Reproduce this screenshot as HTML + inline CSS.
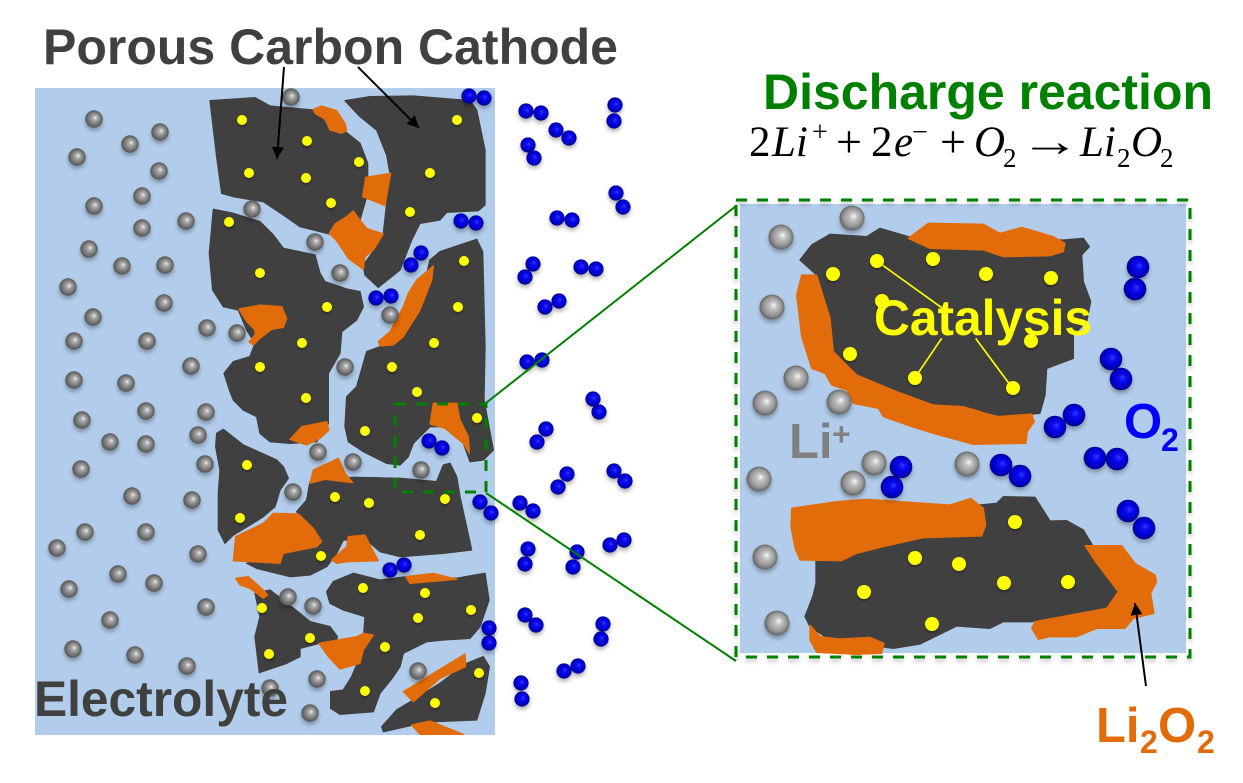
<!DOCTYPE html>
<html><head><meta charset="utf-8"><style>
html,body{margin:0;padding:0;background:#fff}
svg{display:block;filter:blur(.35px)}
text{font-family:"Liberation Sans",sans-serif;font-weight:700}
.m text{font-family:"Liberation Serif",serif;font-weight:400;fill:#000}
.d{fill:#404040;stroke:#404040;stroke-width:4;stroke-linejoin:round}.o{fill:#e36c0a;stroke:#e36c0a;stroke-width:4;stroke-linejoin:round}
.g{fill:url(#gb)}.b{fill:url(#bb)}.g2{fill:url(#gb2)}
.y{fill:#ff0}
</style></head><body>
<svg xmlns="http://www.w3.org/2000/svg" width="1243" height="783" viewBox="0 0 1243 783">
<defs>
<radialGradient id="gb" cx=".5" cy=".5" r=".55" fx=".58" fy=".42">
<stop offset="0" stop-color="#f2f2f2"/><stop offset=".22" stop-color="#b0b0b0"/><stop offset=".6" stop-color="#7c7c7c"/><stop offset="1" stop-color="#4a4a4a"/></radialGradient>
<radialGradient id="gb2" cx=".5" cy=".5" r=".55" fx=".58" fy=".42">
<stop offset="0" stop-color="#fbfbfb"/><stop offset=".25" stop-color="#c4c4c4"/><stop offset=".65" stop-color="#989898"/><stop offset="1" stop-color="#555"/></radialGradient>
<radialGradient id="bb" cx=".5" cy=".5" r=".55" fx=".58" fy=".42">
<stop offset="0" stop-color="#3838ff"/><stop offset=".3" stop-color="#0a0af0"/><stop offset=".7" stop-color="#0000c8"/><stop offset="1" stop-color="#00006e"/></radialGradient>
<marker id="ah" markerUnits="userSpaceOnUse" markerWidth="14" markerHeight="14" refX="12" refY="6" orient="auto"><path d="M0 0L12 6L0 12Z" fill="#000"/></marker>
</defs>
<rect width="1243" height="783" fill="#fff"/>
<rect x="35" y="88" width="460" height="647" fill="#b2cdeb"/>

<g transform="translate(200,80) scale(.33333)">
<path class="d" d="M30 62L165 53L210 78L340 90L400 145L440 158L480 190L503 250L503 340L480 420L440 445L388 462L300 440L250 405L190 365L100 350L65 340L50 230Z"/>
<path class="d" d="M435 62L510 50L640 48L810 62L830 90L855 210L855 375L835 392L740 397L720 420L660 430L635 480L600 570L535 622L495 585L490 555L530 500L550 460L570 280L560 225L530 150L480 110Z"/>
<path class="d" d="M40 388L100 400L180 425L220 465L250 505L345 525L360 580L375 605L440 627L480 635L490 680L470 720L425 755L420 820L385 880L385 1030L350 1085L270 1090L210 1085L180 1060L170 1010L130 990L100 960L90 935L72 880L100 845L150 830L165 790L140 750L115 690L70 680L38 630L28 520Z"/>
<path class="d" d="M830 478L848 515L855 800L852 960L880 1110L850 1140L810 1145L790 1090L730 1040L690 1040L640 1090L625 1130L600 1155L560 1150L490 1115L445 1085L435 1040L440 950L470 920L500 815L540 800L600 780L650 700L690 540L720 515Z"/>
<path class="o" d="M340 88L365 78L410 92L435 130L440 152L425 160L390 150L375 118L345 100Z"/>
<path class="o" d="M497 292L572 280L555 377L488 350Z"/>
<path class="o" d="M388 460L405 432L440 410L460 393L480 420L500 445L550 462L520 510L495 530L490 568L445 535L412 485Z"/>
<path class="o" d="M117 687L180 675L245 680L260 715L250 742L215 748L180 775L160 795L147 785L165 765L165 750L140 725Z"/>
<path class="o" d="M700 558L695 600L660 690L610 770L580 795L540 798L535 785L570 755L610 680L625 640L650 600Z"/>
</g>

<g transform="translate(200,400) scale(.33333)">
<path class="d" d="M50 100L70 88L130 135L230 180L250 200L265 235L240 270L225 320L190 350L150 375L100 405L75 430L55 390L55 280L60 210L47 140Z"/>
<path class="d" d="M290 335L320 300L330 245L460 232L600 235L710 245L730 195L750 190L770 230L780 290L815 450L730 460L600 470L540 455L500 420L430 420L410 460L380 500L330 525L270 530L170 505L140 490L240 470L250 450L350 440L360 410L320 370Z"/>
<path class="d" d="M165 580L210 570L300 640L330 665L390 680L412 710L410 720L357 730L300 745L300 770L260 790L178 818L165 710L180 650Z"/>
<path class="d" d="M380 575L400 545L460 520L540 540L620 530L770 535L855 520L867 600L840 680L810 715L730 720L680 725L610 760L600 800L580 830L540 880L520 935L420 943L392 925L392 875L430 870L455 830L480 770L490 720L495 650L430 630L390 610Z"/>
<path class="d" d="M545 980L590 930L640 900L720 850L800 790L850 770L868 800L855 880L830 960L700 965L640 975L550 995Z"/>
<path class="o" d="M700 10L770 10L780 60L805 110L808 160L790 130L735 85L690 72Z"/>
<path class="o" d="M270 118L305 80L380 65L387 90L360 115L320 135Z"/>
<path class="o" d="M330 250L340 210L415 175L435 220L458 248L375 238Z"/>
<path class="o" d="M100 482L107 410L190 370L220 340L295 342L340 385L365 425L350 440L250 460L240 490Z"/>
<path class="o" d="M395 480L440 440L445 410L495 405L510 435L535 482L440 485L410 490Z"/>
<path class="o" d="M107 535L145 530L190 570L203 585L190 595L150 565L120 555Z"/>
<path class="o" d="M617 530L700 520L770 538L630 550Z"/>
<path class="o" d="M357 730L470 710L490 700L520 705L490 750L480 790L420 807L385 770Z"/>
<path class="o" d="M610 875L700 820L795 762L797 800L720 835L640 905Z"/>
<path class="o" d="M635 975L690 963L790 1003L660 1003Z"/>
</g>

<g style="filter:drop-shadow(0 2px 1px rgba(0,0,0,.3))">
<g class="y">
<circle cx="242" cy="120" r="5"/><circle cx="307" cy="141" r="5"/><circle cx="359" cy="162" r="5"/><circle cx="249" cy="173" r="5"/><circle cx="306" cy="178" r="5"/><circle cx="331" cy="203" r="5"/><circle cx="457" cy="120" r="5"/><circle cx="430" cy="173" r="5"/><circle cx="410" cy="212" r="5"/><circle cx="229" cy="222" r="5"/><circle cx="260" cy="273" r="5"/><circle cx="327" cy="307" r="5"/><circle cx="464" cy="261" r="5"/><circle cx="458" cy="307" r="5"/><circle cx="434" cy="343" r="5"/><circle cx="302" cy="343" r="5"/><circle cx="260" cy="367" r="5"/><circle cx="392" cy="367" r="5"/><circle cx="306" cy="398" r="5"/><circle cx="417" cy="392" r="5"/><circle cx="477" cy="418" r="5"/><circle cx="365" cy="431" r="5"/><circle cx="247" cy="465" r="5"/><circle cx="335" cy="497" r="5"/><circle cx="369" cy="503" r="5"/><circle cx="445" cy="499" r="5"/><circle cx="420" cy="535" r="5"/><circle cx="240" cy="518" r="5"/><circle cx="321" cy="556" r="5"/><circle cx="363" cy="588" r="5"/><circle cx="425" cy="593" r="5"/><circle cx="418" cy="618" r="5"/><circle cx="471" cy="610" r="5"/><circle cx="262" cy="608" r="5"/><circle cx="310" cy="638" r="5"/><circle cx="385" cy="647" r="5"/><circle cx="269" cy="654" r="5"/><circle cx="365" cy="691" r="5"/><circle cx="479" cy="673" r="5"/><circle cx="435" cy="703" r="5"/>
</g>
</g>

<g style="filter:drop-shadow(0 3px 2px rgba(0,0,0,.3))">
<g class="g">
<circle cx="94" cy="119" r="8.7"/><circle cx="130" cy="144" r="8.7"/><circle cx="160" cy="132" r="8.7"/><circle cx="77" cy="157" r="8.7"/><circle cx="159" cy="171" r="8.7"/><circle cx="142" cy="196" r="8.7"/><circle cx="94" cy="206" r="8.7"/><circle cx="142" cy="228" r="8.7"/><circle cx="186" cy="221" r="8.7"/><circle cx="89" cy="249" r="8.7"/><circle cx="122" cy="266" r="8.7"/><circle cx="165" cy="265" r="8.7"/><circle cx="68" cy="287" r="8.7"/><circle cx="164" cy="303" r="8.7"/><circle cx="93" cy="317" r="8.7"/><circle cx="74" cy="341" r="8.7"/><circle cx="147" cy="341" r="8.7"/><circle cx="207" cy="328" r="8.7"/><circle cx="191" cy="366" r="8.7"/><circle cx="74" cy="380" r="8.7"/><circle cx="126" cy="383" r="8.7"/><circle cx="146" cy="411" r="8.7"/><circle cx="82" cy="420" r="8.7"/><circle cx="206" cy="412" r="8.7"/><circle cx="198" cy="435" r="8.7"/><circle cx="110" cy="442" r="8.7"/><circle cx="146" cy="444" r="8.7"/><circle cx="205" cy="464" r="8.7"/><circle cx="81" cy="469" r="8.7"/><circle cx="132" cy="496" r="8.7"/><circle cx="192" cy="500" r="8.7"/><circle cx="85" cy="532" r="8.7"/><circle cx="146" cy="532" r="8.7"/><circle cx="57" cy="548" r="8.7"/><circle cx="198" cy="554" r="8.7"/><circle cx="118" cy="574" r="8.7"/><circle cx="154" cy="583" r="8.7"/><circle cx="69" cy="589" r="8.7"/><circle cx="206" cy="607" r="8.7"/><circle cx="110" cy="620" r="8.7"/><circle cx="73" cy="649" r="8.7"/><circle cx="135" cy="655" r="8.7"/><circle cx="187" cy="666" r="8.7"/>
<circle cx="291" cy="97" r="8.7"/><circle cx="252" cy="209" r="8.7"/><circle cx="315" cy="242" r="8.7"/><circle cx="340" cy="273" r="8.7"/><circle cx="390" cy="315" r="8.7"/><circle cx="237" cy="333" r="8.7"/><circle cx="345" cy="367" r="8.7"/><circle cx="318" cy="452" r="8.7"/><circle cx="353" cy="462" r="8.7"/><circle cx="293" cy="492" r="8.7"/><circle cx="421" cy="470" r="8.7"/><circle cx="288" cy="597" r="8.7"/><circle cx="313" cy="606" r="8.7"/><circle cx="317" cy="679" r="8.7"/><circle cx="270" cy="688" r="8.7"/><circle cx="310" cy="713" r="8.7"/><circle cx="418" cy="671" r="8.7"/>
</g>
<g class="b">
<circle cx="469" cy="96" r="7.6"/><circle cx="484" cy="98" r="7.6"/><circle cx="461" cy="221" r="7.6"/><circle cx="476" cy="223" r="7.6"/><circle cx="421" cy="253" r="7.6"/><circle cx="411" cy="265" r="7.6"/><circle cx="376" cy="298" r="7.6"/><circle cx="391" cy="296" r="7.6"/><circle cx="429" cy="441" r="7.6"/><circle cx="442" cy="448" r="7.6"/><circle cx="480" cy="502" r="7.6"/><circle cx="491" cy="513" r="7.6"/><circle cx="404" cy="565" r="7.6"/><circle cx="390" cy="570" r="7.6"/><circle cx="489" cy="628" r="7.6"/><circle cx="489" cy="643" r="7.6"/>
<circle cx="526" cy="111" r="7.6"/><circle cx="541" cy="113" r="7.6"/><circle cx="556" cy="130" r="7.6"/><circle cx="569" cy="138" r="7.6"/><circle cx="528" cy="145" r="7.6"/><circle cx="534" cy="158" r="7.6"/><circle cx="615" cy="105" r="7.6"/><circle cx="614" cy="121" r="7.6"/><circle cx="616" cy="193" r="7.6"/><circle cx="623" cy="207" r="7.6"/><circle cx="557" cy="218" r="7.6"/><circle cx="572" cy="220" r="7.6"/><circle cx="533" cy="264" r="7.6"/><circle cx="525" cy="277" r="7.6"/><circle cx="581" cy="267" r="7.6"/><circle cx="596" cy="269" r="7.6"/><circle cx="559" cy="301" r="7.6"/><circle cx="545" cy="307" r="7.6"/><circle cx="527" cy="362" r="7.6"/><circle cx="542" cy="360" r="7.6"/>
<circle cx="593" cy="399" r="7.6"/><circle cx="599" cy="412" r="7.6"/><circle cx="546" cy="429" r="7.6"/><circle cx="537" cy="442" r="7.6"/><circle cx="567" cy="474" r="7.6"/><circle cx="558" cy="487" r="7.6"/><circle cx="614" cy="471" r="7.6"/><circle cx="625" cy="481" r="7.6"/><circle cx="520" cy="503" r="7.6"/><circle cx="533" cy="511" r="7.6"/><circle cx="528" cy="549" r="7.6"/><circle cx="525" cy="564" r="7.6"/><circle cx="577" cy="552" r="7.6"/><circle cx="573" cy="567" r="7.6"/><circle cx="624" cy="540" r="7.6"/><circle cx="610" cy="545" r="7.6"/><circle cx="525" cy="615" r="7.6"/><circle cx="536" cy="625" r="7.6"/><circle cx="603" cy="624" r="7.6"/><circle cx="601" cy="639" r="7.6"/><circle cx="578" cy="666" r="7.6"/><circle cx="564" cy="671" r="7.6"/><circle cx="521" cy="683" r="7.6"/><circle cx="522" cy="699" r="7.6"/>
</g>
</g>

<!-- Small dashed box + connectors -->
<line x1="486" y1="403" x2="736" y2="206" stroke="#008000" stroke-width="2"/>
<line x1="486" y1="493" x2="736" y2="661" stroke="#008000" stroke-width="2"/>
<rect x="395" y="404" width="91" height="88" fill="none" stroke="#008000" stroke-width="3" stroke-dasharray="11 10"/>

<!-- Inset -->
<rect x="739" y="203" width="448" height="451" fill="#fff"/>
<rect x="740" y="204" width="446" height="449" fill="#b2cdeb"/>
<rect x="736" y="200" width="454" height="457" fill="none" stroke="#008000" stroke-width="3" stroke-dasharray="11 10" style="filter:drop-shadow(0 3px 2px rgba(0,0,0,.25))"/>

<g transform="translate(730,195) scale(.33333)">
<path class="d" d="M210 195L245 150L300 118L410 125L450 100L535 125L1000 135L1060 130L1078 155L1055 180L1060 260L1082 320L1070 380L1030 420L1030 490L950 520L945 600L930 655L820 665L700 635L600 625L500 590L380 540L310 480L290 360L260 240Z"/>
<path class="o" d="M535 130L595 85L760 88L810 115L875 97L970 125L1005 145L1000 170L960 182L820 185L760 165L600 160Z"/>
<path class="o" d="M215 240L260 240L300 370L310 470L380 540L500 590L610 630L700 635L800 665L905 657L913 680L892 710L888 745L730 748L610 715L545 695L460 665L445 640L370 625L350 585L305 570L285 535L245 520L215 425L200 300Z"/>
<g stroke="#ff0" stroke-width="5" fill="none">
<line x1="450" y1="205" x2="635" y2="338"/><line x1="635" y1="430" x2="555" y2="548"/><line x1="737" y1="430" x2="848" y2="580"/>
</g>
</g>
<g transform="translate(730,440) scale(.33333)">
<path class="d" d="M258 360L460 320L580 290L750 195L800 190L820 170L915 172L960 243L1010 242L1060 270L1090 320L1165 455L1130 505L905 545L820 545L780 565L680 558L570 612L490 625L300 600L240 560L225 530L250 465L258 430Z"/>
<path class="o" d="M185 205L320 185L410 178L660 195L722 175L760 205L767 255L755 288L580 293L460 320L380 340L335 362L210 360L195 325L183 260Z"/>
<path class="o" d="M1065 317L1175 317L1215 370L1275 405L1280 425L1262 460L1272 520L1210 535L1185 565L1100 565L1040 590L960 590L925 598L905 565L915 545L1130 505L1165 455L1100 370Z"/>
<path class="o" d="M240 555L270 590L330 597L420 592L462 610L455 640L380 643L260 637L240 600Z"/>
</g>

<g style="filter:drop-shadow(0 2px 1px rgba(0,0,0,.3))" class="y">
<circle cx="877" cy="261" r="7"/><circle cx="933" cy="259" r="7"/><circle cx="833" cy="274" r="7"/><circle cx="986" cy="274" r="7"/><circle cx="1051" cy="278" r="7"/><circle cx="882" cy="301" r="7"/><circle cx="1031" cy="341" r="7"/><circle cx="850" cy="354" r="7"/><circle cx="915" cy="378" r="7"/><circle cx="1013" cy="388" r="7"/>
<circle cx="1015" cy="522" r="7"/><circle cx="915" cy="558" r="7"/><circle cx="959" cy="564" r="7"/><circle cx="864" cy="592" r="7"/><circle cx="1004" cy="583" r="7"/><circle cx="1068" cy="582" r="7"/><circle cx="932" cy="624" r="7"/>
</g>

<g style="filter:drop-shadow(0 3px 2px rgba(0,0,0,.3))">
<g class="g2">
<circle cx="781" cy="237" r="12.5"/><circle cx="852" cy="218" r="12.5"/><circle cx="772" cy="307" r="12.5"/><circle cx="796" cy="378" r="12.5"/><circle cx="765" cy="403" r="12.5"/><circle cx="839" cy="402" r="12.5"/><circle cx="874" cy="463" r="12.5"/><circle cx="967" cy="464" r="12.5"/><circle cx="759" cy="479" r="12.5"/><circle cx="853" cy="483" r="12.5"/><circle cx="765" cy="557" r="12.5"/><circle cx="777" cy="623" r="12.5"/>
</g>
<g class="b">
<circle cx="1138" cy="267" r="11.3"/><circle cx="1135" cy="289" r="11.3"/><circle cx="1111" cy="359" r="11.3"/><circle cx="1121" cy="379" r="11.3"/><circle cx="1074" cy="415" r="11.3"/><circle cx="1055" cy="427" r="11.3"/><circle cx="1095" cy="458" r="11.3"/><circle cx="1117" cy="459" r="11.3"/><circle cx="901" cy="467" r="11.3"/><circle cx="892" cy="487" r="11.3"/><circle cx="1001" cy="465" r="11.3"/><circle cx="1020" cy="476" r="11.3"/><circle cx="1128" cy="511" r="11.3"/><circle cx="1144" cy="528" r="11.3"/>
</g>
</g>

<!-- Arrows -->
<line x1="284" y1="67" x2="277" y2="159" stroke="#000" stroke-width="2" marker-end="url(#ah)"/>
<line x1="358" y1="67" x2="419" y2="128" stroke="#000" stroke-width="2" marker-end="url(#ah)"/>
<line x1="1146" y1="686" x2="1135" y2="603" stroke="#000" stroke-width="2" marker-end="url(#ah)"/>

<!-- Labels -->
<text x="43" y="64" font-size="50" fill="#404040" textLength="575" lengthAdjust="spacingAndGlyphs">Porous Carbon Cathode</text>
<text x="763" y="109" font-size="50" fill="#008000" textLength="450" lengthAdjust="spacingAndGlyphs">Discharge reaction</text>
<text x="34" y="716" font-size="50" fill="#404040" textLength="254" lengthAdjust="spacingAndGlyphs">Electrolyte</text>
<text x="874" y="335" font-size="50" fill="#ff0" textLength="218" lengthAdjust="spacingAndGlyphs">Catalysis</text>

<text x="789" y="458" font-size="49" fill="#808080">Li</text>
<text x="832" y="445" font-size="32" fill="#808080">+</text>
<text x="1124" y="438" font-size="49" fill="#0000ff">O</text>
<text x="1161" y="451" font-size="32" fill="#0000ff">2</text>

<text x="1096" y="742" font-size="49" fill="#e36c0a">Li</text>
<text x="1140" y="753" font-size="32" fill="#e36c0a">2</text>
<text x="1158" y="742" font-size="49" fill="#e36c0a">O</text>
<text x="1197" y="753" font-size="32" fill="#e36c0a">2</text>

<g class="m" font-size="43">
<text x="749" y="156">2</text>
<text x="772" y="156" font-style="italic">Li</text>
<text x="812" y="141" font-size="28">+</text>
<text x="836" y="157" font-size="46">+</text>
<text x="871" y="156">2</text>
<text x="894" y="156" font-style="italic">e</text>
<text x="912" y="141" font-size="28">−</text>
<text x="940" y="157" font-size="46">+</text>
<text x="974" y="156" font-style="italic">O</text>
<text x="1003" y="167" font-size="27">2</text>
<text transform="translate(1020,156) scale(1.5,1.1)" x="0" y="0" font-size="40">→</text>
<text x="1080" y="156" font-style="italic">Li</text>
<text x="1117" y="167" font-size="27">2</text>
<text x="1131" y="156" font-style="italic">O</text>
<text x="1160" y="167" font-size="27">2</text>
</g>
</svg>
</body></html>
